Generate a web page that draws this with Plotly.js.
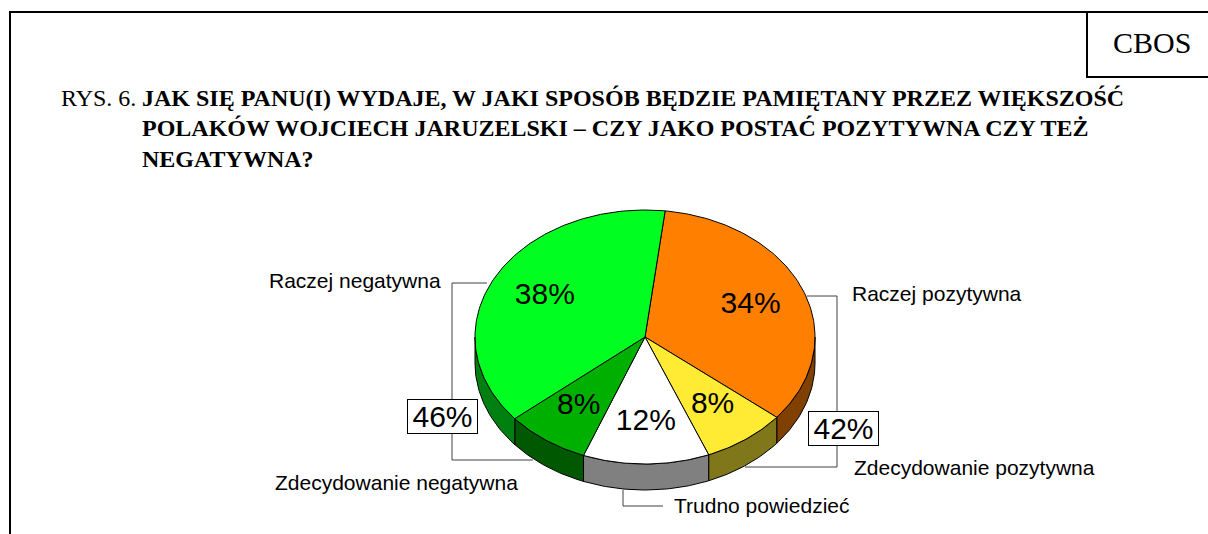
<!DOCTYPE html>
<html>
<head>
<meta charset="utf-8">
<script src="https://cdn.plot.ly/plotly-3.0.1.min.js"></script>
<style>html,body{margin:0;padding:0;background:#fff;}#chart{width:1208px;height:534px;}</style>
</head>
<body>
<div id="chart"></div>
<script>
// ---- data ----
const categories = ['Raczej pozytywna', 'Zdecydowanie pozytywna', 'Trudno powiedzieć', 'Zdecydowanie negatywna', 'Raczej negatywna'];
const values = [34, 8, 12, 8, 38];
const valueLabels = ['34%', '8%', '12%', '8%', '38%'];
const topColors = ['#FF8000', '#FFEB33', '#FFFFFF', '#00B000', '#00FF21'];
const sideColors = ['#804000', '#80761A', '#808080', '#005800', '#008010'];
const groupLabels = ['46%', '42%'];
const titleLines = ['JAK SIĘ PANU(I) WYDAJE, W JAKI SPOSÓB BĘDZIE PAMIĘTANY PRZEZ WIĘKSZOŚĆ',
  'POLAKÓW WOJCIECH JARUZELSKI – CZY JAKO POSTAĆ POZYTYWNA CZY TEŻ', 'NEGATYWNA?'];

// ---- geometry (styles / layout) ----
const W = 1208, H = 534;
const cx = 645, cy = 337, rx = 170, ry = 127, depth = 26;
const startAngle = 83.2;   // degrees, counter-clockwise from +x; slices go clockwise
const labelR = 0.67;
const rad = d => d * Math.PI / 180;
const ex = t => cx + rx * Math.cos(rad(t));
const ey = t => cy - ry * Math.sin(rad(t));

const total = values.reduce((a, b) => a + b, 0);
const bounds = [];
let acc = startAngle;
values.forEach(v => { const a0 = acc; acc -= v / total * 360; bounds.push([a0, acc]); });

const traces = [];
// sides (front half only: angles between -180 and 0)
bounds.forEach((b, i) => {
  const hi = b[0], lo = b[1];
  const segs = [];
  for (let k = -1; k <= 1; k++) {
    const h = hi + 360 * k, l = lo + 360 * k;
    const s = Math.min(h, 0), e = Math.max(l, -180);
    if (s > e) segs.push([s, e]);
  }
  segs.forEach(([s, e]) => {
    const xs = [], ys = [];
    const n = Math.max(2, Math.ceil(s - e));
    for (let j = 0; j <= n; j++) { const t = s - (s - e) * j / n; xs.push(ex(t)); ys.push(ey(t)); }
    for (let j = n; j >= 0; j--) { const t = s - (s - e) * j / n; xs.push(ex(t)); ys.push(ey(t) + depth); }
    xs.push(xs[0]); ys.push(ys[0]);
    traces.push({ type: 'scatter', mode: 'lines', x: xs, y: ys, fill: 'toself', fillcolor: sideColors[i],
      line: { color: '#000', width: 1 }, hoverinfo: 'skip', showlegend: false });
  });
});
// tops
bounds.forEach((b, i) => {
  const xs = [cx], ys = [cy];
  const n = Math.max(2, Math.ceil(b[0] - b[1]));
  for (let j = 0; j <= n; j++) { const t = b[0] - (b[0] - b[1]) * j / n; xs.push(ex(t)); ys.push(ey(t)); }
  xs.push(cx); ys.push(cy);
  traces.push({ type: 'scatter', mode: 'lines', x: xs, y: ys, fill: 'toself', fillcolor: topColors[i],
    line: { color: '#000', width: 1 }, hoverinfo: 'skip', showlegend: false, name: categories[i] });
});
// value labels
const lx = [], ly = [];
bounds.forEach(b => {
  const m = (b[0] + b[1]) / 2;
  lx.push(cx + rx * labelR * Math.cos(rad(m)));
  ly.push(cy - ry * labelR * Math.sin(rad(m)));
});
traces.push({ type: 'scatter', mode: 'text', x: lx, y: ly, text: valueLabels, textposition: 'middle center',
  textfont: { family: 'Liberation Sans, Arial, sans-serif', size: 30, color: '#000' }, hoverinfo: 'skip', showlegend: false });

const lineStyle = { color: '#404040', width: 1 };
const shapes = [
  { type: 'rect', xref: 'x', yref: 'y', x0: 10, y0: 12, x1: 1220, y1: 545, line: { color: '#000', width: 2 } },
  { type: 'rect', xref: 'x', yref: 'y', x0: 1087, y0: 12, x1: 1220, y1: 77, line: { color: '#000', width: 2 } },
  { type: 'path', xref: 'x', yref: 'y', path: 'M487,283 L452,283 L452,399', line: lineStyle },
  { type: 'path', xref: 'x', yref: 'y', path: 'M452,434 L452,460 L533,460', line: lineStyle },
  { type: 'path', xref: 'x', yref: 'y', path: 'M807,296 L837,296 L837,411', line: lineStyle },
  { type: 'path', xref: 'x', yref: 'y', path: 'M837,445 L837,467 L745,467', line: lineStyle },
  { type: 'path', xref: 'x', yref: 'y', path: 'M623,490 L623,506 L663,506', line: lineStyle }
];

const sans = 'Liberation Sans, Arial, sans-serif';
const serif = '"Liberation Serif", "Times New Roman", serif';
const ann = (text, x, y, opts) => Object.assign({ text, x, y, xref: 'x', yref: 'y', showarrow: false,
  xanchor: 'left', yanchor: 'middle', font: { family: sans, size: 21, color: '#000' } }, opts || {});
const titleFont = { family: serif, size: 24, color: '#000', weight: 'bold' };

const annotations = [
  ann('CBOS', 1152, 42, { xanchor: 'center', font: { family: serif, size: 30, color: '#000' } }),
  ann('RYS. 6.', 59, 98, { font: { family: serif, size: 24, color: '#000' } }),
  ann(titleLines[0], 140, 98, { font: titleFont }),
  ann(titleLines[1], 140, 128, { font: titleFont }),
  ann(titleLines[2], 140, 159, { font: titleFont }),
  ann(categories[4], 443, 280, { xanchor: 'right' }),
  ann(categories[0], 850, 293),
  ann(categories[3], 273, 482),
  ann(categories[1], 852, 467),
  ann(categories[2], 672, 505),
  ann(groupLabels[0], 442.5, 416.5, { xanchor: 'center', font: { family: sans, size: 30, color: '#000' },
    bgcolor: '#fff', bordercolor: '#000', borderwidth: 1, borderpad: 0, width: 69, height: 33 }),
  ann(groupLabels[1], 843.5, 428, { xanchor: 'center', font: { family: sans, size: 30, color: '#000' },
    bgcolor: '#fff', bordercolor: '#000', borderwidth: 1, borderpad: 0, width: 69, height: 33 })
];

const layout = {
  width: W, height: H, margin: { l: 0, r: 0, t: 0, b: 0 },
  paper_bgcolor: '#fff', plot_bgcolor: '#fff',
  xaxis: { range: [0, W], visible: false, fixedrange: true },
  yaxis: { range: [H, 0], visible: false, fixedrange: true },
  showlegend: false, shapes, annotations
};
Plotly.newPlot('chart', traces, layout, { staticPlot: true, displayModeBar: false });
</script>
</body>
</html>
